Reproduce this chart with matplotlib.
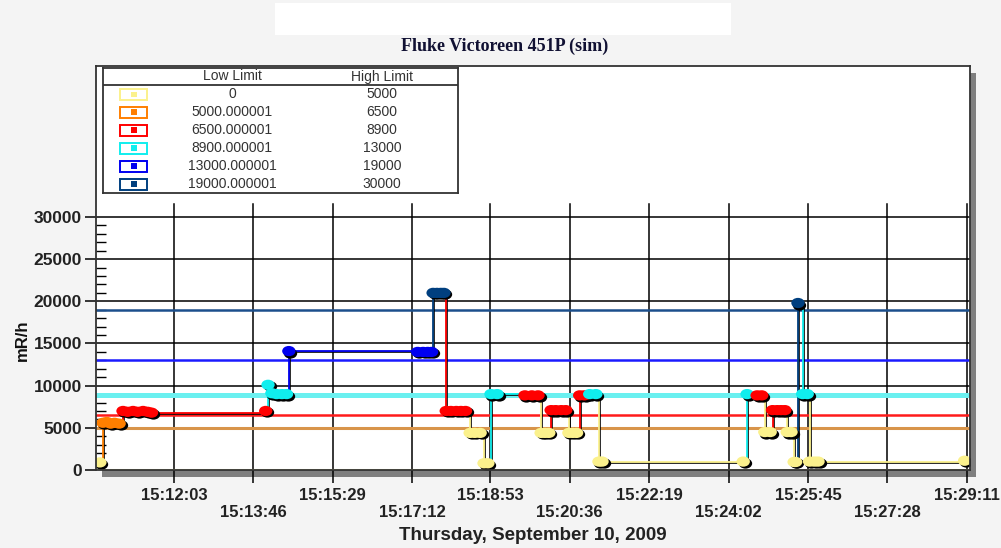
import numpy as np
import matplotlib as mpl
mpl.use('Agg')
import matplotlib.pyplot as plt
import matplotlib.patheffects as pe
from matplotlib.patches import Rectangle
from matplotlib.path import Path
from matplotlib.transforms import ScaledTranslation

plt.rcParams['font.family'] = ['Liberation Sans', 'DejaVu Sans']

#colour bands, as listed in the table on the chart
band_low = ["0", "5000.000001", "6500.000001", "8900.000001", "13000.000001", "19000.000001"]
band_high = ["5000", "6500", "8900", "13000", "19000", "30000"]
band_colors = ['#fbf18c', '#ff7f00', '#ff0000', '#10eeee', '#0000f0', '#003f7f']
limit_colors = ['#f3eea8', '#d8944a', '#ff1a1a', '#6af0f0', '#1a1aff', '#1c4f8c']
limit_widths = [2.2, 2.2, 1.8, 3.6, 1.8, 1.8]

#readings (time of day, mR/h)
times = ["15:10:27", "15:10:31", "15:10:36", "15:10:41", "15:10:46", "15:10:52",
         "15:10:57", "15:11:03", "15:11:10", "15:11:16", "15:11:23", "15:11:29", "15:11:34",
         "15:14:02", "15:14:05", "15:14:10", "15:14:16", "15:14:23", "15:14:29",
         "15:14:32", "15:17:19", "15:17:26", "15:17:32", "15:17:37",
         "15:17:39", "15:17:44", "15:17:49", "15:17:53",
         "15:17:56", "15:18:02", "15:18:09", "15:18:15", "15:18:21",
         "15:18:27", "15:18:33", "15:18:40", "15:18:45", "15:18:50",
         "15:18:54", "15:19:02", "15:19:38", "15:19:47", "15:19:55",
         "15:19:59", "15:20:04", "15:20:09",
         "15:20:12", "15:20:18", "15:20:25", "15:20:31",
         "15:20:35", "15:20:40", "15:20:45", "15:20:49", "15:20:55",
         "15:21:02", "15:21:10", "15:21:14", "15:21:18",
         "15:24:21", "15:24:26", "15:24:39", "15:24:45", "15:24:49", "15:24:56",
         "15:24:59", "15:25:05", "15:25:10", "15:25:15", "15:25:18", "15:25:23",
         "15:25:27", "15:25:29", "15:25:32", "15:25:38", "15:25:44",
         "15:25:47", "15:25:53", "15:25:58", "15:29:08"]
dose = [900, 5600, 5700, 5500, 5600, 5500,
        7000, 6900, 7000, 6900, 7000, 6900, 6800,
        7000, 10100, 9100, 9000, 9000, 9000,
        14100, 14000, 14000, 14000, 14000,
        21000, 21000, 21000, 21000,
        7000, 7000, 7000, 7000, 7000,
        4400, 4400, 4400, 800, 800,
        9000, 9000, 8850, 8850, 8850,
        4400, 4400, 4400,
        7100, 7100, 7100, 7100,
        4400, 4400, 4400, 8850, 8850,
        9000, 9000, 1000, 1000,
        1000, 9000, 8850, 8850, 4500, 4500,
        7100, 7100, 7100, 7100, 4500, 4500,
        950, 950, 19800, 9000, 9000,
        1000, 1000, 1000, 1100]

tick_labels = ["15:12:03", "15:13:46", "15:15:29", "15:17:12", "15:18:53", "15:20:36",
               "15:22:19", "15:24:02", "15:25:45", "15:27:28", "15:29:11"]


def secs(s):
   h, m, sec = s.split(':')
   return int(h)*3600 + int(m)*60 + int(sec)


W, H = 1001, 548
fig = plt.figure(figsize=(W/100, H/100), dpi=100, facecolor='#f4f4f4')

#white strip at the top and the shadow of the plot frame
fig.add_artist(Rectangle((275/W, 1-35/H), 456/W, 32/H, transform=fig.transFigure,
                         fc='white', ec='none', zorder=-2))
fig.add_artist(Rectangle((102/W, 1-477/H), 874/W, 404/H, transform=fig.transFigure,
                         fc='#7f7f7f', ec='none', zorder=-1))

ax = fig.add_axes([96/W, 1-470/H, 874/W, 404/H])
ax.set_facecolor('white')

t = np.array([secs(s) for s in times])
v = np.array(dose, dtype=float)
ticks = [secs(s) for s in tick_labels]
t0 = ticks[0]

ax.set_xlim(t0 - 101, t0 + 1032)
ax.set_ylim(0, 47900)

#grid
for p in ticks:
   ax.plot([p, p], [0, 31500], color='k', lw=1.1, zorder=1)
for g in range(0, 30001, 5000):
   ax.axhline(g, color='k', lw=1.1, zorder=1)

#limit lines at each band's low edge
for lo, c, w in zip(band_low, limit_colors, limit_widths):
   ax.axhline(float(lo), color=c, lw=w, zorder=2)

#colour of each reading from the band it falls in
highs = np.array([float(h) for h in band_high])
idx = np.searchsorted(highs, v)
cols = [band_colors[i] for i in idx]

shadow = [pe.SimpleLineShadow(offset=(0.8, -0.8), shadow_color='k', alpha=0.9, rho=1), pe.Normal()]
for i in range(len(t)):
   xs = [t[i], t[i]]
   ys = [v[i-1] if i > 0 else v[i], v[i]]
   if i < len(t)-1:
      xs.append(t[i+1])
      ys.append(v[i])
   ax.plot(xs, ys, color=cols[i], lw=1.3, zorder=4, path_effects=shadow,
           solid_joinstyle='miter')

circ = Path.unit_circle()
ell = Path(circ.vertices*[1.3, 1.0], circ.codes)
off = ax.transData + ScaledTranslation(0.015, -0.015, fig.dpi_scale_trans)
ax.scatter(t, v, s=9.6**2, marker=ell, c='k', lw=0, transform=off, zorder=5)
ax.scatter(t, v, s=9.6**2, marker=ell, c=cols, lw=0, zorder=6)

#axes styling
for sp in ax.spines.values():
   sp.set_color('#333333')
   sp.set_linewidth(1.3)
   sp.set_zorder(7)

ax.set_yticks(range(0, 30001, 5000))
ax.set_yticks(range(0, 30001, 1000), minor=True)
ax.tick_params(axis='y', which='major', direction='out', length=8, width=1.1,
               labelsize=12.5, pad=2, labelcolor='#222222')
ax.tick_params(axis='y', which='minor', direction='in', length=7, width=1.0)
for lab in ax.get_yticklabels():
   lab.set_fontweight('bold')

xlabs = [s if i % 2 == 0 else '\n'+s for i, s in enumerate(tick_labels)]
ax.set_xticks(ticks)
ax.set_xticklabels(xlabs, fontsize=12, fontweight='bold', color='#222222', linespacing=1.2)
ax.tick_params(axis='x', which='major', direction='out', length=9, width=1.1, pad=4)
ax.tick_params(axis='x', which='minor', bottom=False)

fig.text(22/W, 1-340/H, 'mR/h', rotation=90, ha='center', va='center',
         fontsize=12, fontweight='bold', color='#111111')
fig.text(533/W, 1-535/H, 'Thursday, September 10, 2009', ha='center', va='center',
         fontsize=13.5, fontweight='bold', color='#222222')
fig.text(505/W, 1-46/H, 'Fluke Victoreen 451P (sim)', ha='center', va='center',
         fontsize=13, fontweight='bold', family='Liberation Serif', color='#111133')

#band table in the top left corner
lax = fig.add_axes([103/W, 1-193/H, 355/W, 125/H])
lax.set_zorder(5)
lax.set_xlim(0, 355)
lax.set_ylim(125, 0)
lax.set_xticks([])
lax.set_yticks([])
lax.set_facecolor('white')
for sp in lax.spines.values():
   sp.set_color('#333333')
   sp.set_linewidth(1.3)
lax.axhline(17, color='#333333', lw=1.3)
lax.text(129, 8.5, 'Low Limit', ha='center', va='center', fontsize=10, color='#333333')
lax.text(279, 8.5, 'High Limit', ha='center', va='center', fontsize=10, color='#333333')
for i in range(len(band_low)):
   y = 26.3 + i*17.95
   lax.add_patch(Rectangle((17, y-5.5), 27, 11, fc='white', ec=band_colors[i], lw=1.4))
   lax.add_patch(Rectangle((28, y-2.8), 6, 5.6, fc=band_colors[i], ec='none'))
   lax.text(129, y, band_low[i], ha='center', va='center', fontsize=10, color='#333333')
   lax.text(279, y, band_high[i], ha='center', va='center', fontsize=10, color='#333333')

plt.savefig('out.png', dpi=100, facecolor=fig.get_facecolor())
